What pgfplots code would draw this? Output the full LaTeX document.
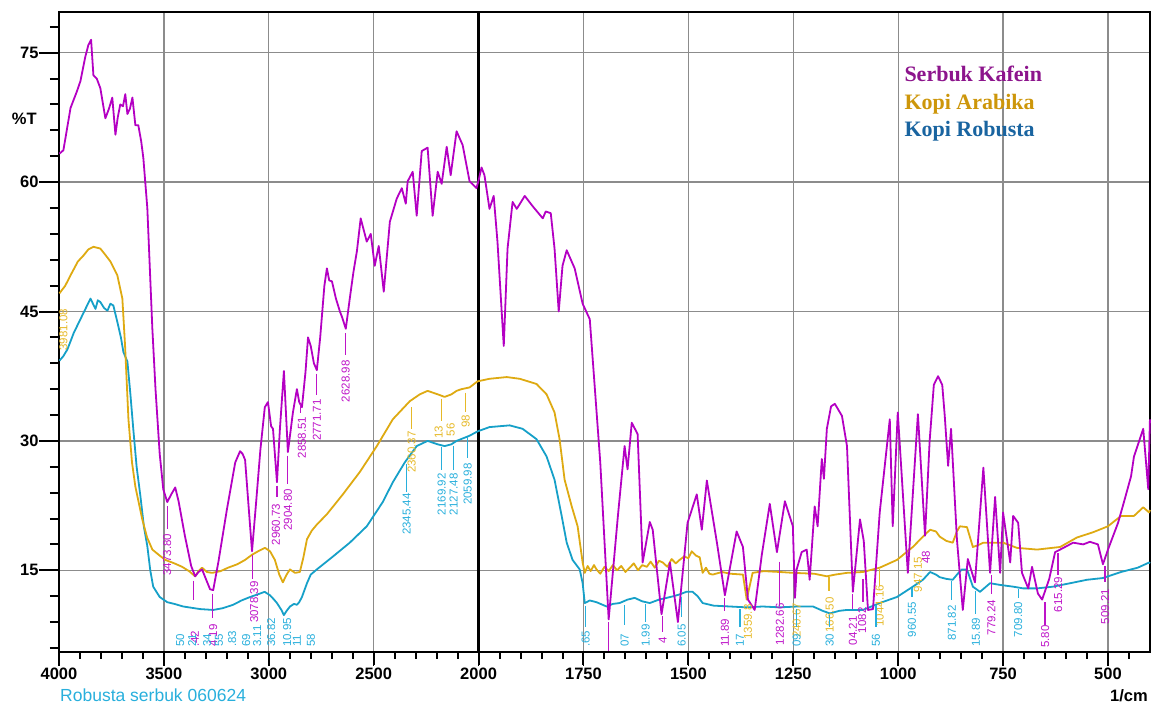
\documentclass[border=0pt]{standalone}
\usepackage{fontspec}
\setmainfont{Liberation Sans}
\newfontfamily\timesb{Liberation Serif}
\newfontfamily\lab{Liberation Sans}
\usepackage{pgfplots}
\pgfplotsset{compat=1.18}
\definecolor{cmag}{RGB}{180,0,195}
\definecolor{cgold}{RGB}{222,170,18}
\definecolor{ccyan}{RGB}{22,160,200}
\definecolor{lmag}{RGB}{190,20,200}
\definecolor{lgold}{RGB}{230,185,40}
\definecolor{lcyan}{RGB}{40,175,220}
\definecolor{legmag}{RGB}{140,20,140}
\definecolor{leggold}{RGB}{205,150,10}
\definecolor{legcyan}{RGB}{25,100,160}
\definecolor{gridc}{RGB}{140,140,140}
\newcommand{\lc}[4]{\node[rotate=90,text=#1,font=\lab\fontsize{11.5}{11.5}\selectfont,inner sep=0pt] at (axis cs:#2,#3) {#4};}
\newcommand{\lb}[4]{\node[rotate=90,anchor=west,text=#1,font=\lab\fontsize{11.5}{11.5}\selectfont,inner sep=0pt] at (axis cs:#2,#3) {#4};}
\newcommand{\ld}[4]{\draw[#1,line width=1.2pt] (axis cs:#2,#3) -- (axis cs:#2,#4);}
\newcommand{\xtk}[2]{\node[inner sep=0pt, outer sep=0pt, anchor=north, text=black] at (axis cs:#1,5.56) {\rule{2pt}{#2}};}
\newcommand{\ytk}[2]{\node[inner sep=0pt, outer sep=0pt, anchor=east, text=black] at (axis cs:4000,#1) {\rule[-1pt]{#2}{2pt}};}
\begin{document}
\begin{tikzpicture}
\path[use as bounding box] (-59pt,-56.3pt) rectangle (1099pt,651.7pt);
\begin{axis}[
  at={(0pt,0pt)}, anchor=south west,
  scale only axis, width=1091pt, height=640pt,
  x coord trafo/.code={\begingroup\pgfkeys{/pgf/fpu=true,/pgf/fpu/output format=float}\pgfmathparse{(#1>=2000)?(4000-#1):(6000-2*#1)}\pgfmathfloattofixed{\pgfmathresult}\global\let\mytrafo\pgfmathresult\endgroup\let\pgfmathresult\mytrafo},
  xmin=4000, xmax=400, ymin=5.56, ymax=79.76,
  xtick={4000,3500,3000,2500,2000,1750,1500,1250,1000,750,500},
  xticklabels={4000,3500,3000,2500,2000,1750,1500,1250,1000,750,500},
  ytick={15,30,45,60,75},
  xtick pos=bottom, ytick pos=left, tick align=outside,
  major tick length=14pt,
  tick style={black, line width=1.6pt},
  axis line style={black, line width=2pt},
  grid=major,
  major grid style={gridc, line width=1.3pt},
  /pgf/number format/assume math mode=true,
  tick label style={font=\fontsize{16.5}{16.5}\selectfont\bfseries},
  yticklabel style={xshift=-3pt},
  xticklabel style={yshift=1pt},
  clip=false,
  every axis plot/.append style={no markers, line join=round, line width=1.8pt},
]
\draw[black, line width=2.6pt] (axis cs:2000,5.56) -- (axis cs:2000,79.76);
% tick marks drawn as rules (x majors 13pt, minors 7pt; y majors 20pt, minors 9pt)
\xtk{4000}{13pt}\xtk{3500}{13pt}\xtk{3000}{13pt}\xtk{2500}{13pt}\xtk{2000}{13pt}\xtk{1750}{13pt}\xtk{1500}{13pt}\xtk{1250}{13pt}\xtk{1000}{13pt}\xtk{750}{13pt}\xtk{500}{13pt}
\xtk{3900}{7pt}\xtk{3800}{7pt}\xtk{3700}{7pt}\xtk{3600}{7pt}\xtk{3400}{7pt}\xtk{3300}{7pt}\xtk{3200}{7pt}\xtk{3100}{7pt}
\xtk{2900}{7pt}\xtk{2800}{7pt}\xtk{2700}{7pt}\xtk{2600}{7pt}\xtk{2400}{7pt}\xtk{2300}{7pt}\xtk{2200}{7pt}\xtk{2100}{7pt}
\xtk{1950}{7pt}\xtk{1900}{7pt}\xtk{1850}{7pt}\xtk{1800}{7pt}\xtk{1700}{7pt}\xtk{1650}{7pt}\xtk{1600}{7pt}\xtk{1550}{7pt}
\xtk{1450}{7pt}\xtk{1400}{7pt}\xtk{1350}{7pt}\xtk{1300}{7pt}\xtk{1200}{7pt}\xtk{1150}{7pt}\xtk{1100}{7pt}\xtk{1050}{7pt}
\xtk{950}{7pt}\xtk{900}{7pt}\xtk{850}{7pt}\xtk{800}{7pt}\xtk{700}{7pt}\xtk{650}{7pt}\xtk{600}{7pt}\xtk{550}{7pt}\xtk{450}{7pt}
\ytk{15}{20pt}\ytk{30}{20pt}\ytk{45}{20pt}\ytk{60}{20pt}\ytk{75}{20pt}
\ytk{6}{9pt}\ytk{9}{9pt}\ytk{12}{9pt}\ytk{18}{9pt}\ytk{21}{9pt}\ytk{24}{9pt}\ytk{27}{9pt}\ytk{33}{9pt}\ytk{36}{9pt}\ytk{39}{9pt}\ytk{42}{9pt}\ytk{48}{9pt}\ytk{51}{9pt}\ytk{54}{9pt}\ytk{57}{9pt}\ytk{63}{9pt}\ytk{66}{9pt}\ytk{69}{9pt}\ytk{72}{9pt}\ytk{78}{9pt}

\addplot[ccyan] coordinates {(3998,39.3)(3980,39.8)(3960,40.6)(3930,42.5)(3898,44.1)(3870,45.5)(3850,46.5)(3826,45.3)(3815,46.3)(3803,46.1)(3785,45.4)(3769,45.1)(3755,45.9)(3741,45.7)(3722,43.8)(3705,42)(3693,40.3)(3674,39.2)(3660,35.5)(3646,31.4)(3630,27)(3612,23.6)(3595,20)(3579,17.8)(3565,15)(3551,13.1)(3520,11.9)(3484,11.3)(3450,11.1)(3408,10.8)(3327,10.5)(3265,10.4)(3220,10.6)(3170,11.0)(3130,11.5)(3089,11.9)(3042,12.3)(3020,12.5)(2994,12.1)(2975,11.6)(2961,11.2)(2940,10.4)(2928,9.8)(2915,10.3)(2899,10.8)(2880,11.1)(2866,11.0)(2855,11.3)(2842,11.9)(2818,13.5)(2800,14.5)(2771,15.1)(2694,16.6)(2614,18.2)(2533,20.1)(2457,22.9)(2409,25.2)(2352,27.5)(2295,29.4)(2243,30.0)(2195,29.6)(2162,29.4)(2130,29.6)(2105,30.0)(2043,30.6)(2005,31.1)(1974,31.6)(1926,31.8)(1895,31.4)(1862,30.2)(1838,28.2)(1819,25.5)(1802,21.3)(1790,18.2)(1776,16.2)(1759,15.1)(1752,13.5)(1747,11.2)(1735,11.5)(1719,11.3)(1695,10.8)(1680,11.1)(1664,11.2)(1645,11.6)(1628,11.8)(1610,11.4)(1592,11.2)(1570,11.6)(1552,11.8)(1535,12.0)(1521,12.2)(1505,12.5)(1490,12.5)(1478,12.0)(1466,11.2)(1440,10.9)(1401,10.8)(1361,10.7)(1323,10.8)(1282,10.7)(1240,10.8)(1203,10.8)(1180,10.3)(1163,10.0)(1140,10.3)(1122,10.4)(1084,10.4)(1044,11.2)(1003,11.9)(965,13.1)(941,13.9)(924,14.8)(910,14.5)(901,14.2)(885,14.0)(870,13.9)(858,14.6)(848,15.1)(836,15.1)(822,13.1)(805,12.5)(781,13.5)(757,13.3)(726,13.1)(702,12.9)(669,12.9)(631,13.1)(590,13.5)(550,13.9)(512,14.1)(469,14.8)(429,15.3)(402,15.9)(400,15.8)};

\addplot[cgold] coordinates {(3998,47.1)(3970,48)(3945,49.2)(3910,50.8)(3883,51.5)(3860,52.2)(3836,52.5)(3803,52.3)(3780,51.6)(3755,50.8)(3722,49.2)(3698,46.5)(3685,41)(3669,32.5)(3652,27.5)(3636,24.7)(3603,20.9)(3580,18.8)(3555,17.4)(3520,16.7)(3493,16.2)(3450,15.8)(3413,15.4)(3380,14.9)(3351,14.3)(3335,14.9)(3318,15.3)(3295,14.8)(3270,14.7)(3230,14.9)(3194,15.3)(3150,15.7)(3113,16.2)(3080,16.8)(3051,17.2)(3018,17.6)(2994,17.2)(2971,16.2)(2950,14.5)(2933,13.6)(2915,14.5)(2899,15.1)(2875,14.7)(2852,14.8)(2835,16.5)(2818,18.6)(2795,19.6)(2771,20.3)(2723,21.5)(2647,23.8)(2566,26.4)(2485,29.4)(2409,32.5)(2328,34.6)(2280,35.4)(2243,35.8)(2195,35.4)(2162,35.1)(2129,35.4)(2105,35.8)(2081,36.0)(2043,36.2)(2005,36.9)(1974,37.2)(1933,37.4)(1902,37.2)(1862,36.6)(1838,35.4)(1819,33.3)(1807,30.2)(1795,25.5)(1778,22.4)(1764,20.1)(1752,15.9)(1747,14.7)(1740,15.5)(1733,14.9)(1725,15.6)(1719,15.1)(1710,14.6)(1700,15.4)(1690,14.9)(1680,15.6)(1670,15.0)(1660,15.5)(1650,14.8)(1640,15.3)(1630,15.8)(1620,15.0)(1610,15.6)(1599,15.4)(1590,16.0)(1580,15.3)(1570,16.1)(1561,15.9)(1550,15.4)(1540,16.3)(1530,15.8)(1521,16.2)(1510,16.6)(1500,16.4)(1492,17.2)(1482,16.7)(1473,16.5)(1466,14.7)(1458,15.3)(1450,14.6)(1442,14.5)(1420,14.8)(1400,14.6)(1370,14.5)(1361,11.6)(1347,14.7)(1320,14.9)(1282,14.8)(1250,14.7)(1200,14.6)(1170,14.3)(1150,14.5)(1122,14.7)(1084,14.8)(1044,15.3)(1003,16.2)(965,17.7)(941,18.9)(924,19.7)(910,19.5)(901,18.9)(885,18.4)(870,18.2)(860,19.5)(853,20.1)(836,20.0)(822,17.7)(810,17.9)(797,18.2)(750,18.2)(717,17.6)(669,17.4)(614,17.7)(574,18.8)(536,19.4)(500,20.1)(469,21.3)(438,21.3)(416,22.3)(402,21.7)(400,22.0)};

\addplot[cmag] coordinates {(3998,63.3)(3979,63.7)(3945,68.6)(3915,70.5)(3898,71.7)(3875,74.5)(3860,75.9)(3847,76.5)(3836,72.4)(3820,72)(3803,70.9)(3790,69)(3779,67.4)(3762,68.5)(3746,69.8)(3731,65.5)(3720,67.5)(3708,69.0)(3695,68.8)(3684,70.2)(3674,67.9)(3662,68.5)(3650,69.8)(3636,66.6)(3622,66.6)(3608,64.7)(3598,62.8)(3579,57.0)(3567,50)(3555,43.0)(3540,36)(3520,28.5)(3503,24.4)(3484,22.9)(3465,23.8)(3446,24.6)(3430,23)(3400,19)(3370,15.5)(3351,14.3)(3335,14.8)(3318,15.1)(3300,14)(3280,12.8)(3265,12.7)(3240,16)(3200,22)(3160,27.5)(3137,28.8)(3125,28.5)(3113,27.8)(3095,22)(3080,17.2)(3060,23)(3040,29)(3019,33.9)(3004,34.5)(2989,31.7)(2980,31.4)(2961,25.2)(2947,31.4)(2928,38.1)(2909,28.7)(2885,33.3)(2866,36.0)(2855,34.5)(2842,33.9)(2825,38)(2813,42.0)(2800,41)(2785,39)(2771,38.2)(2755,42)(2735,48)(2723,50.0)(2712,48.6)(2699,48.5)(2680,46.5)(2661,45.0)(2650,44.3)(2633,43.0)(2614,46.5)(2597,49.5)(2580,52.0)(2562,55.8)(2533,53.1)(2514,54.0)(2495,50.3)(2476,52.6)(2452,47.3)(2423,55.4)(2390,58.1)(2366,59.3)(2347,57.5)(2338,60.1)(2314,61.2)(2295,56.1)(2271,63.6)(2243,64.0)(2219,56.1)(2195,61.2)(2176,59.8)(2152,64.1)(2133,60.8)(2105,65.9)(2076,64.3)(2043,60.1)(2010,59.3)(2000,60.2)(1993,61.7)(1986,60.8)(1974,56.9)(1964,58.4)(1955,53.1)(1940,41.0)(1931,52.3)(1919,57.7)(1909,56.9)(1890,58.4)(1871,57.2)(1847,55.8)(1840,56.6)(1828,56.4)(1819,52.3)(1809,45.0)(1800,50.3)(1790,52.1)(1771,50.0)(1752,45.9)(1735,44.1)(1710,27.5)(1690,9.3)(1668,21.3)(1652,29.4)(1645,26.7)(1635,32.1)(1621,30.8)(1609,15.9)(1592,20.6)(1585,19.7)(1564,9.9)(1544,15.9)(1525,9.0)(1502,20.5)(1480,23.8)(1468,19.7)(1456,25.4)(1432,18.2)(1413,12.1)(1385,19.5)(1370,17.7)(1358,11.6)(1342,10.4)(1325,16.8)(1306,22.7)(1289,17.1)(1270,23.0)(1251,20.1)(1246,11.8)(1242,15.1)(1230,17.1)(1218,17.4)(1211,13.9)(1199,22.4)(1192,20.1)(1182,27.9)(1177,25.6)(1170,31.4)(1160,34.0)(1151,34.3)(1134,32.9)(1122,29.4)(1108,12.5)(1091,20.9)(1082,18.4)(1072,10.4)(1060,10.5)(1044,21.7)(1020,32.5)(1013,20.1)(1001,33.3)(977,14.7)(953,33.1)(936,19.0)(925,30)(915,36.5)(905,37.5)(895,36.5)(889,32.9)(881,27.1)(874,31.4)(860,18.6)(846,10.4)(834,16.3)(817,13.6)(797,26.9)(781,14.7)(769,23.5)(757,14.7)(750,21.7)(733,15.9)(726,21.3)(714,20.5)(705,14.7)(690,12.9)(681,15.4)(667,12.3)(657,11.6)(640,14)(626,17.1)(614,17.4)(583,18.2)(559,18.0)(543,18.3)(524,18.0)(512,15.7)(500,17.4)(476,20.5)(462,22.9)(445,25.9)(438,28.2)(416,31.4)(404,24.4)(400,32.5)};

% magenta peak labels
\lc{lmag}{3484}{16.8}{3473.80}\ld{lmag}{3484}{22.4}{19.8}
\lc{lmag}{3070}{11.3}{3078.39}\ld{lmag}{3078}{16.8}{14.0}
\lc{lmag}{2966}{20.3}{2960.73}\ld{lmag}{2961}{24.8}{23.5}
\lc{lmag}{2909}{22.0}{2904.80}\ld{lmag}{2909}{28.3}{25.0}
\lc{lmag}{2842}{30.4}{2858.51}\ld{lmag}{2850}{34.3}{33.2}
\lc{lmag}{2771}{32.4}{2771.71}\ld{lmag}{2771}{37.8}{35.3}
\lc{lmag}{2633}{36.9}{2628.98}\ld{lmag}{2633}{42.5}{39.9}
\ld{lmag}{3270}{12.3}{9.5}\lb{lmag}{3265}{6.1}{4.19}
\ld{lmag}{3360}{13.8}{11.6}\lb{lmag}{3352}{6.1}{.42}
\ld{lmag}{1690}{9.0}{5.6}
\ld{lmag}{1561}{9.7}{7.8}\lc{lmag}{1561}{6.9}{4}
\ld{lmag}{1413}{11.8}{10.3}\lb{lmag}{1413}{6.1}{11.89}
\ld{lmag}{1282}{16.0}{10.8}\lb{lmag}{1282}{6.3}{1282.66}
\ld{lmag}{1108}{12.2}{10.5}\lb{lmag}{1108}{6.3}{04.21}
\ld{lmag}{1084}{14.0}{11.3}\lc{lmag}{1086}{9.2}{1082}
\lc{lmag}{934}{16.5}{48}
\ld{lmag}{778}{14.4}{12.3}\lc{lmag}{778}{9.5}{779.24}
\ld{lmag}{650}{11.3}{8.7}\lc{lmag}{650}{7.3}{5.80}
\ld{lmag}{619}{17.0}{14.4}\lc{lmag}{619}{12.2}{615.29}
\ld{lmag}{507}{15.5}{13.6}\lc{lmag}{507}{10.8}{509.21}
% gold labels
\lc{lgold}{3979}{42.9}{3981.08}
\lc{lgold}{2319}{28.7}{2360.37}\ld{lgold}{2319}{33.9}{31.4}
\lc{lgold}{2190}{31.0}{13}
\lc{lgold}{2133}{31.3}{56}
\lc{lgold}{2062}{32.3}{98}\ld{lgold}{2062}{35.6}{33.4}
\ld{lgold}{2176}{34.9}{32.3}
\lc{lgold}{1358}{9.0}{1359.8}
\lc{lgold}{1242}{9.2}{240.67}
\lc{lgold}{1163}{9.8}{166.50}\ld{lgold}{1165}{14.2}{12.6}
\lc{lgold}{1044}{10.9}{1044.16}\ld{lgold}{1044}{15.1}{13.2}
\lc{lgold}{953}{14.5}{947.15}
% cyan labels
\lc{lcyan}{2343}{21.5}{2345.44}\ld{lcyan}{2343}{27.3}{24.1}
\lc{lcyan}{2176}{23.8}{2169.92}\ld{lcyan}{2176}{29.3}{26.6}
\lc{lcyan}{2119}{23.8}{2127.48}\ld{lcyan}{2119}{29.4}{26.6}
\lc{lcyan}{2052}{25.0}{2059.98}\ld{lcyan}{2052}{30.4}{28.0}
\lb{lcyan}{3422}{6.1}{50}
\lb{lcyan}{3365}{6.1}{21}
\lb{lcyan}{3294}{6.1}{34}
\lb{lcyan}{3237}{6.1}{55}
\lb{lcyan}{3175}{6.1}{.83}
\lb{lcyan}{3108}{6.1}{69}
\lb{lcyan}{3056}{6.1}{3.11}
\lb{lcyan}{2989}{6.1}{36.82}
\lb{lcyan}{2913}{6.1}{10.95}
\lb{lcyan}{2866}{6.1}{11}
\lb{lcyan}{2799}{6.1}{58}
\ld{lcyan}{1745}{10.9}{8.4}\lb{lcyan}{1745}{6.1}{.65}
\ld{lcyan}{1652}{11.0}{8.6}\lb{lcyan}{1652}{6.1}{07}
\ld{lcyan}{1602}{11.1}{9.0}\lb{lcyan}{1602}{6.1}{1.99}
\ld{lcyan}{1516}{11.9}{9.6}\lb{lcyan}{1516}{6.1}{6.05}
\ld{lcyan}{1377}{10.5}{8.4}\lb{lcyan}{1377}{6.1}{17}
\ld{lcyan}{1242}{10.5}{8.4}\lb{lcyan}{1242}{6.1}{09}
\ld{lcyan}{1163}{9.8}{8.4}\lb{lcyan}{1163}{6.1}{30}
\ld{lcyan}{1053}{11.0}{8.4}\lb{lcyan}{1053}{6.1}{56}
\ld{lcyan}{967}{13.0}{11.9}\lc{lcyan}{967}{9.3}{960.55}
\ld{lcyan}{872}{13.8}{11.6}\lc{lcyan}{872}{8.9}{871.82}
\ld{lcyan}{815}{12.6}{9.9}\lb{lcyan}{815}{6.1}{15.89}
\ld{lcyan}{714}{12.8}{11.8}\lc{lcyan}{714}{9.3}{709.80}
\end{axis}
% outer texts
\node[anchor=base west, inner sep=0pt, font=\fontsize{16.5}{16.5}\selectfont\bfseries] at (-47.3pt,526.7pt) {\%T};
\node[anchor=base west, inner sep=0pt, text=lcyan, font=\fontsize{17.5}{17.5}\selectfont] at (1pt,-50.3pt) {Robusta serbuk 060624};
\node[anchor=base east, inner sep=0pt, font=\fontsize{16.5}{16.5}\selectfont\bfseries] at (1089pt,-50.3pt) {1/cm};
% legend
\node[anchor=base west, inner sep=0pt, text=legmag, font=\timesb\fontsize{22}{22}\selectfont\bfseries] at (845.3pt,570pt) {Serbuk Kafein};
\node[anchor=base west, inner sep=0pt, text=leggold, font=\timesb\fontsize{22}{22}\selectfont\bfseries] at (845.3pt,541.7pt) {Kopi Arabika};
\node[anchor=base west, inner sep=0pt, text=legcyan, font=\timesb\fontsize{22}{22}\selectfont\bfseries] at (845.3pt,514.7pt) {Kopi Robusta};
\end{tikzpicture}
\end{document}
